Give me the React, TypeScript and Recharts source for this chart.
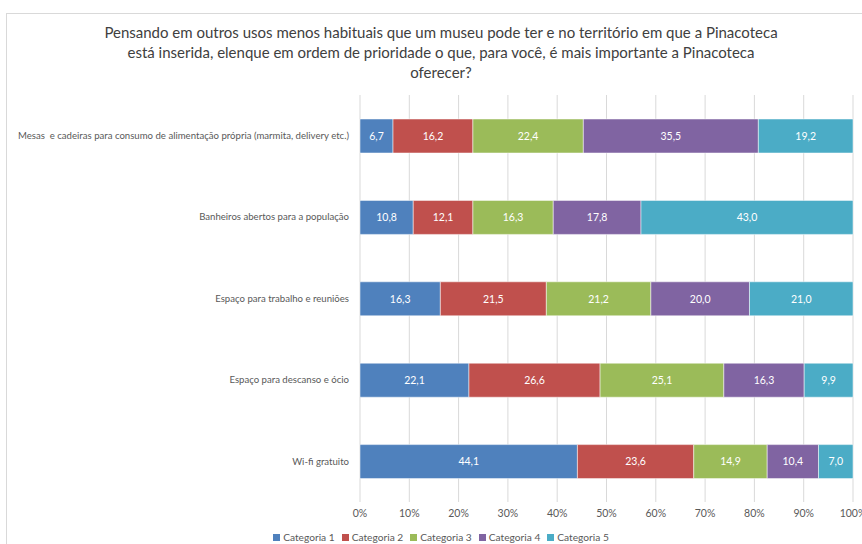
import { BarChart, Bar, XAxis, YAxis, CartesianGrid, LabelList } from "recharts";

const categories = [
  "Mesas  e cadeiras para consumo de alimentação própria (marmita, delivery etc.)",
  "Banheiros abertos para a população",
  "Espaço para trabalho e reuniões",
  "Espaço para descanso e ócio",
  "Wi-fi gratuito",
];

const categoria1 = [6.7, 10.8, 16.3, 22.1, 44.1];
const categoria2 = [16.2, 12.1, 21.5, 26.6, 23.6];
const categoria3 = [22.4, 16.3, 21.2, 25.1, 14.9];
const categoria4 = [35.5, 17.8, 20.0, 16.3, 10.4];
const categoria5 = [19.2, 43.0, 21.0, 9.9, 7.0];

const seriesNames = ["Categoria 1", "Categoria 2", "Categoria 3", "Categoria 4", "Categoria 5"];
const seriesColors = ["#4F81BD", "#C0504D", "#9BBB59", "#8064A2", "#4BACC6"];
const xTicks = [0, 0.1, 0.2, 0.3, 0.4, 0.5, 0.6, 0.7, 0.8, 0.9, 1];

const titleLines = [
  "Pensando em outros usos menos habituais que um museu pode ter e no território em que a Pinacoteca",
  "está inserida, elenque em ordem de prioridade o que, para você, é mais importante a Pinacoteca",
  "oferecer?",
];

const seriesValues = [categoria1, categoria2, categoria3, categoria4, categoria5];
const data = categories.map((name, i) => {
  const row: Record<string, string | number> = { name };
  seriesNames.forEach((s, k) => {
    row[s] = seriesValues[k][i];
  });
  return row;
});

const FONT = "Lato, 'Open Sans', sans-serif";

function CategoryTick(props: any) {
  const { x, y, payload } = props;
  return (
    <text
      x={x - 3}
      y={y}
      dy="0.35em"
      textAnchor="end"
      fill="#595959"
      fontSize={9.6}
      fontFamily={FONT}
      style={{ whiteSpace: "pre" }}
    >
      {payload.value}
    </text>
  );
}

export default function App() {
  return (
    <div
      style={{
        position: "absolute",
        left: 0,
        top: 0,
        width: 862,
        height: 544,
        overflow: "hidden",
        background: "#fff",
        fontFamily: FONT,
      }}
    >
      <div
        style={{
          position: "absolute",
          left: 6,
          top: 13,
          width: 900,
          height: 600,
          border: "1px solid #d9d9d9",
        }}
      />
      <div
        style={{
          position: "absolute",
          left: 0,
          top: 22,
          width: 882,
          textAlign: "center",
          fontSize: 15,
          lineHeight: "20px",
          color: "#404040",
        }}
      >
        {titleLines.map((t, i) => (
          <div key={i}>{t}</div>
        ))}
      </div>
      <div style={{ position: "absolute", left: 0, top: 0 }}>
        <BarChart
          width={862}
          height={544}
          data={data}
          layout="vertical"
          stackOffset="expand"
          barSize={34}
          margin={{ top: 95, right: 9, bottom: 22, left: 0 }}
        >
          <CartesianGrid horizontal={false} stroke="#d9d9d9" />
          <XAxis
            type="number"
            domain={[0, 1]}
            ticks={xTicks}
            axisLine={false}
            tickLine={false}
            height={20}
            tick={{ fill: "#595959", fontSize: 10.5, fontFamily: FONT }}
            tickFormatter={(v: number) => `${Math.round(v * 100)}%`}
            interval={0}
          />
          <YAxis
            type="category"
            dataKey="name"
            width={360}
            axisLine={false}
            tickLine={false}
            tick={<CategoryTick />}
            interval={0}
          />
          {seriesNames.map((s, k) => (
            <Bar
              key={s}
              dataKey={s}
              stackId="a"
              fill={seriesColors[k]}
              stroke="#ffffff"
              strokeWidth={0.5}
              isAnimationActive={false}
            >
              <LabelList
                dataKey={s}
                position="center"
                fill="#ffffff"
                fontSize={10.5}
                fontFamily={FONT}
                formatter={(v: number) => Number(v).toFixed(1).replace(".", ",")}
              />
            </Bar>
          ))}
        </BarChart>
      </div>
      <div
        style={{
          position: "absolute",
          left: 0,
          top: 530,
          width: 882,
          display: "flex",
          justifyContent: "center",
          gap: 7,
          fontSize: 10.2,
          color: "#595959",
          lineHeight: "14px",
        }}
      >
        {seriesNames.map((s, k) => (
          <div key={s} style={{ display: "flex", alignItems: "center" }}>
            <span
              style={{
                display: "inline-block",
                width: 7,
                height: 7,
                background: seriesColors[k],
                marginRight: 3,
              }}
            />
            {s}
          </div>
        ))}
      </div>
    </div>
  );
}
